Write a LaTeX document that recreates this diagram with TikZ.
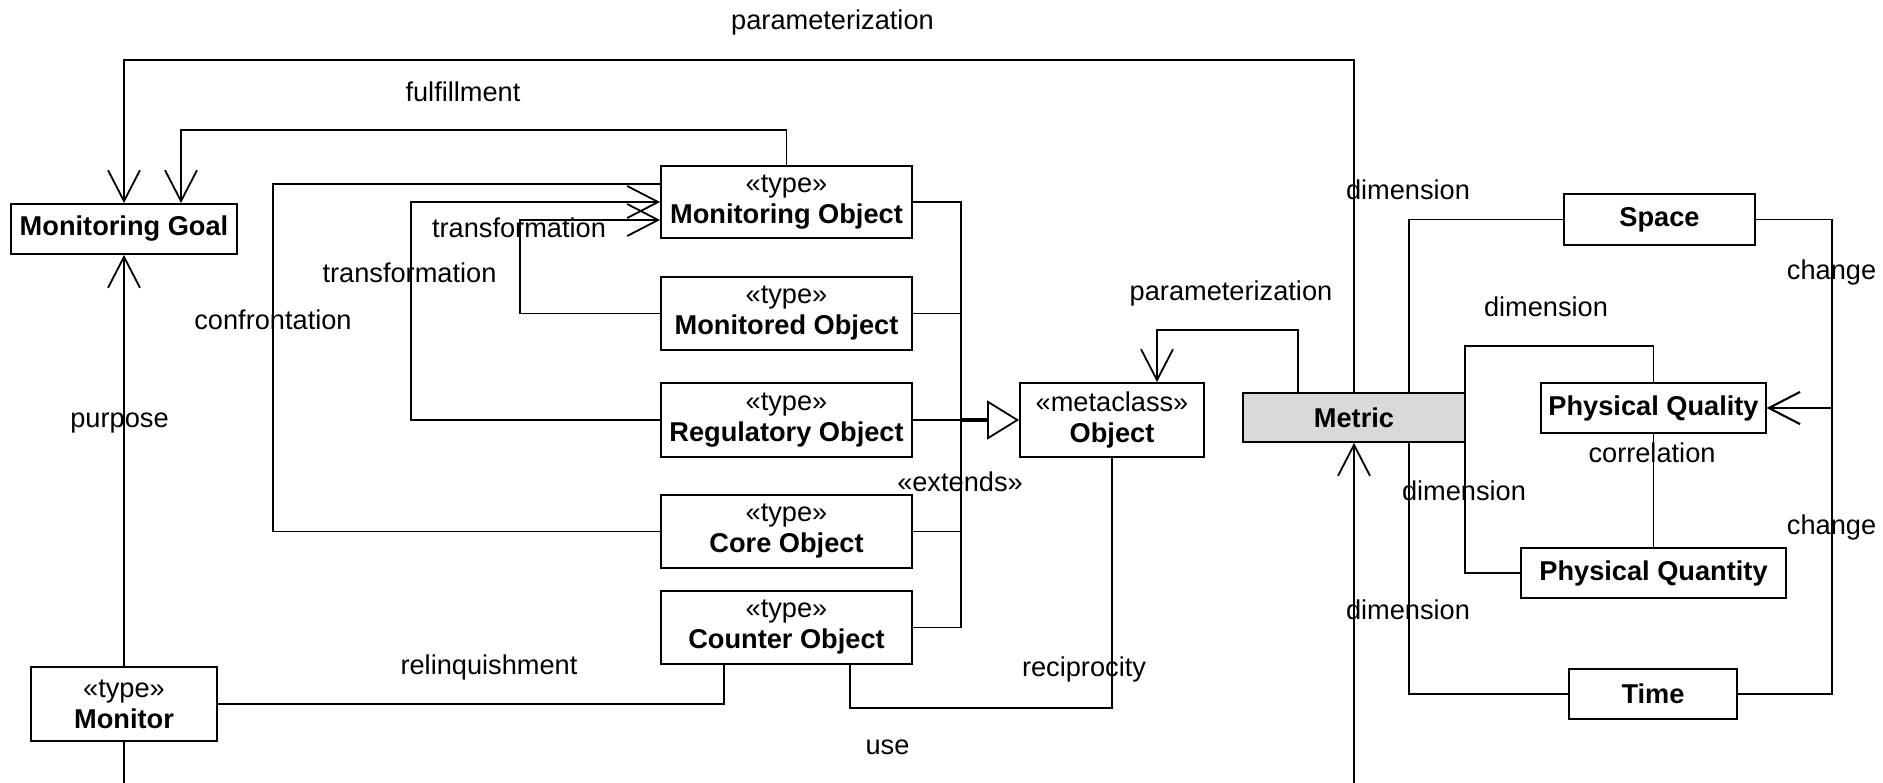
\documentclass[tikz,border=0pt]{standalone}
\usepackage{fontspec}
\setmainfont{Liberation Sans}
\usetikzlibrary{arrows.meta}
\newcommand\dfont{\fontsize{13.6pt}{15.5pt}\selectfont}
\begin{document}
\begin{tikzpicture}[x=0.5pt,y=-0.5pt,line width=0.9pt,
  box/.style={draw,fill=white,inner sep=0pt,align=center,font=\dfont},
  lab/.style={inner sep=0pt,font=\dfont},
  barb/.style={-{Straight Barb[length=15.5pt,width=16pt]}},
  gen/.style={-{Triangle[open,length=16pt,width=19.5pt]}}]
\useasboundingbox (0,0) rectangle (1883,782);
\clip (0,0) rectangle (1883,782);
% boxes
\node[box,minimum width=113pt,minimum height=25pt] (mg) at (124,229) {\textbf{Monitoring Goal}};
\node[box,minimum width=93pt,minimum height=37pt] (mon) at (124,704) {«type»\\\textbf{Monitor}};
\node[box,minimum width=125.5pt,minimum height=36pt] (mo) at (786.5,202) {«type»\\\textbf{Monitoring Object}};
\node[box,minimum width=125.5pt,minimum height=36.5pt] (mdo) at (786.5,313.5) {«type»\\\textbf{Monitored Object}};
\node[box,minimum width=125.5pt,minimum height=37pt] (ro) at (786.5,420) {«type»\\\textbf{Regulatory Object}};
\node[box,minimum width=125.5pt,minimum height=36.5pt] (co) at (786.5,531.5) {«type»\\\textbf{Core Object}};
\node[box,minimum width=125.5pt,minimum height=36.5pt] (cto) at (786.5,627.5) {«type»\\\textbf{Counter Object}};
\node[box,minimum width=92pt,minimum height=37pt] (obj) at (1112,420) {«metaclass»\\\textbf{Object}};
\node[box,fill={rgb,255:red,217;green,217;blue,217},minimum width=111pt,minimum height=24.5pt] (met) at (1354,417.5) {\textbf{Metric}};
\node[box,minimum width=95.5pt,minimum height=25.5pt] (sp) at (1659.5,219.5) {\textbf{Space}};
\node[box,minimum width=112.5pt,minimum height=25pt] (pql) at (1653.5,408) {\textbf{Physical Quality}};
\node[box,minimum width=132.5pt,minimum height=25pt] (pqn) at (1653.5,573) {\textbf{Physical Quantity}};
\node[box,minimum width=84pt,minimum height=25pt] (time) at (1653,694) {\textbf{Time}};
% bend points
\coordinate (c1) at (124,60);
\coordinate (c2) at (181,130);
\coordinate (c3) at (124,820);
\coordinate (c4) at (273,184);
\coordinate (c5) at (411,202);
\coordinate (c6) at (520,220);
\coordinate (c7) at (961,202);
\coordinate (c8) at (961,627.5);
\coordinate (c9) at (724,703);
\coordinate (c10) at (850,708);
\coordinate (c11) at (1112,708);
\coordinate (pA) at (1298,330);
\coordinate (pB) at (1157,330);
\coordinate (c12) at (1409,220);
\coordinate (c13) at (1465,346);
\coordinate (c14) at (1653.5,346);
\coordinate (c15) at (1465,573);
\coordinate (c16) at (1832,408);
% connectors
\draw[barb] (met.north) |- (c1) -- (mg.north);
\draw[barb] (mo.north) |- (c2) -- (mg.north -| c2);
\draw[barb] (mon.north) -- (mg.south);
\draw[barb] (mon.south) -- (c3) -| (met.south);
\draw (co.west) -| (c4) -- (mo.west |- c4);
\draw[barb] (ro.west) -| (c5) -- (mo.west |- c5);
\draw[barb] (mdo.west) -| (c6) -- (mo.west |- c6);
\draw (mo.east) -- (c7) -- (c8) -- (cto.east);
\draw (mdo.east) -- (mdo.east -| c7);
\draw (co.east) -- (co.east -| c7);
\draw[gen] (ro.east) -- (obj.west);
\draw[line width=1.8pt] (ro.east -| c7) -- ++(27,0);
\draw (mon.east) -| (cto.south -| c9);
\draw (cto.south -| c10) -- (c10) -- (c11) -- (obj.south);
\draw[barb] (met.north -| pA) -- (pA) -- (pB) -- (obj.north -| pB);
\draw (met.north -| c12) |- (sp.west);
\draw (met.north -| c13) -- (c13) -- (c14) -- (pql.north);
\draw (met.south -| c15) |- (pqn.west);
\draw (met.south -| c12) |- (time.west);
\draw (pql.south) -- (pqn.north);
\draw[barb] (sp.east) -| (c16) -- (pql.east);
\draw[barb] (time.east) -| (c16) -- (pql.east);
% labels
\node[lab] (l1) at (832.5,22) {parameterization};
\node[lab] (l2) at (463,92) {fulfillment};
\node[lab] (l3) at (519,228) {transformation};
\node[lab] (l4) at (409.5,273) {transformation};
\node[lab] (l5) at (273,320) {confrontation};
\node[lab] (l6) at (119.5,423) {purpose};
\node[lab] (l7) at (489,667) {relinquishment};
\node[lab] (l8) at (887.5,747) {use};
\node[lab] (l9) at (1084,669) {reciprocity};
\node[lab] (l10) at (960,482) {«extends»};
\node[lab] (l11) at (1231,293) {parameterization};
\node[lab] (l12) at (1408,190) {dimension};
\node[lab] (l13) at (1546,307) {dimension};
\node[lab] (l14) at (1652,453) {correlation};
\node[lab] (l15) at (1464,491) {dimension};
\node[lab] (l16) at (1408,610) {dimension};
\node[lab] (l17) at (1831.5,272) {change};
\node[lab] (l18) at (1831.5,527) {change};
\end{tikzpicture}
\end{document}
